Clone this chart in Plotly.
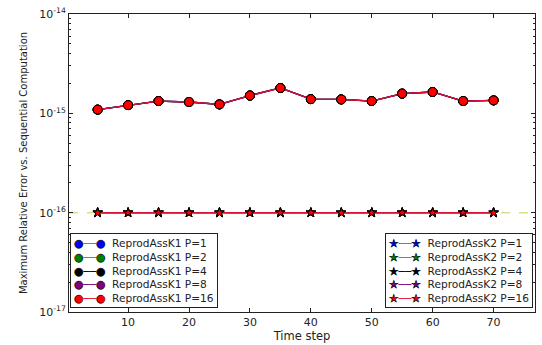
import plotly.graph_objects as go

time_steps = [5, 10, 15, 20, 25, 30, 35, 40, 45, 50, 55, 60, 65, 70]
k1_error = [1.09e-15, 1.21e-15, 1.33e-15, 1.30e-15, 1.23e-15, 1.51e-15, 1.80e-15,
            1.39e-15, 1.38e-15, 1.33e-15, 1.58e-15, 1.64e-15, 1.33e-15, 1.35e-15]
k2_error = [1e-16] * 14
procs = [1, 2, 4, 8, 16]
colors = ["#0000ff", "#008000", "#000000", "#800080", "#ff0000"]
line_colors = ["#6666ff", "#33aa33", "#000000", "#800080", "#dd1133"]
ref_level = 1e-16
y_tick_vals = [1e-17, 1e-16, 1e-15, 1e-14]
y_tick_text = ["10<sup>-17</sup>", "10<sup>-16</sup>", "10<sup>-15</sup>", "10<sup>-14</sup>"]
x_tick_vals = [10, 20, 30, 40, 50, 60, 70]
x_range = [0.3, 76.8]

fig = go.Figure()

fig.add_trace(go.Scatter(
    x=x_range, y=[ref_level, ref_level], mode="lines",
    line=dict(color="rgba(191,191,0,0.5)", width=1.5, dash="dash"),
    showlegend=False, hoverinfo="skip"))

for p, c, lc in zip(procs, colors, line_colors):
    fig.add_trace(go.Scatter(
        x=time_steps, y=k1_error, mode="lines+markers",
        name=f"ReprodAssK1 P={p}", showlegend=False,
        line=dict(color=lc, width=1.3),
        marker=dict(symbol="circle", size=9, color=c, line=dict(color="black", width=1))))

for p, c, lc in zip(procs, colors, line_colors):
    fig.add_trace(go.Scatter(
        x=time_steps, y=k2_error, mode="lines+markers",
        name=f"ReprodAssK2 P={p}", showlegend=False,
        line=dict(color=lc, width=1.3),
        marker=dict(symbol="star", size=7, color=c, line=dict(color="black", width=1))))


def legend_text(kernel, glyph):
    rows = []
    for p, c, lc in zip(procs, colors, line_colors):
        g = f'<span style="color:{c};stroke:black;stroke-width:0.6px">{glyph}</span>'
        ln = f'<span style="color:{lc}">──</span>'
        rows.append(f'{g}{ln}{g}  ReprodAssK{kernel} P={p}')
    return "<br>".join(rows)


ann_common = dict(xref="paper", yref="paper", showarrow=False, align="left",
                  bgcolor="white", bordercolor="#222", borderwidth=1, borderpad=3,
                  font=dict(family="DejaVu Sans", size=10.6, color="#222"),
                  yanchor="bottom", y=0.012)

fig.add_annotation(text=legend_text(1, "●"), x=0.003, xanchor="left", **ann_common)
fig.add_annotation(text=legend_text(2, "★"), x=0.995, xanchor="right", **ann_common)

axis_common = dict(showline=True, linecolor="#222", linewidth=1, mirror="ticks",
                   ticks="inside", tickcolor="#222", showgrid=False, zeroline=False,
                   tickfont=dict(family="DejaVu Sans", size=11, color="#222"))

fig.update_xaxes(range=x_range, tickvals=x_tick_vals, ticklen=4,
                 title=dict(text="Time step", font=dict(family="DejaVu Sans", size=11.5, color="#222"), standoff=2),
                 **axis_common)

minor_vals = [m * 10.0 ** e for e in (-17, -16, -15) for m in range(2, 10)]
fig.update_yaxes(type="log", range=[-17, -14], tickvals=y_tick_vals, ticktext=y_tick_text,
                 ticklen=4,
                 minor=dict(tickvals=minor_vals, ticks="inside", ticklen=2, tickcolor="#222"),
                 title=dict(text="Maximum Relative Error vs. Sequential Computation",
                            font=dict(family="DejaVu Sans", size=10, color="#222"), standoff=9),
                 **axis_common)

fig.update_layout(
    width=542, height=345,
    margin=dict(l=69, r=6, t=12, b=32),
    plot_bgcolor="white", paper_bgcolor="white",
    showlegend=False,
)

fig.write_html("out.html")
